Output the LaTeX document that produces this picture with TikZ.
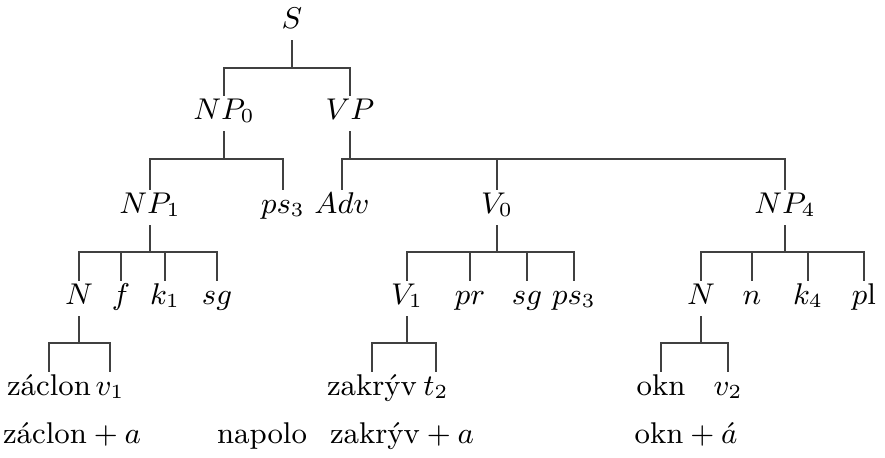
\documentclass[tikz,border=0pt]{standalone}
\usepackage{tikz}
\usetikzlibrary{calc}
\tikzset{
  cat/.style={anchor=base, inner xsep=1pt, inner ysep=0.6pt, text height=6.2pt, text depth=2.8pt, font=\small},
  branch/.style={draw=black!75, line width=0.4pt}
}
\begin{document}
\begin{tikzpicture}[x=0.3pt, y=-0.3pt,
  form/.style={anchor=base, inner sep=1pt, font=\small}
]
\useasboundingbox (0,0) rectangle (885,457);
% heights of the bars
\coordinate (bar0) at (0,68);
\coordinate (bar1) at (0,159);
\coordinate (bar2) at (0,252);
\coordinate (bar3) at (0,343);
% sentence
\node[cat] (s) at (292,28) {$S$};
\node[cat] (np0) at (224,119) {$NP_0$};
\node[cat] (vp) at (350,119) {$VP$};
% subject
\node[cat] (np1) at (150,213) {$NP_1$};
\node[cat] (ps3a) at (283,213) {$ps_3$};
\node[cat] (noun1) at (79,304) {$N$};
\node[cat] (f) at (121,304) {$f$};
\node[cat] (k1) at (165,304) {$k_1$};
\node[cat] (sg1) at (217,304) {$sg$};
\node[cat] (zaclon) at (49,395) {záclon};
\node[cat] (vsub1) at (110,395) {$v_1$};
% predicate
\node[cat] (adv) at (342,213) {$Adv$};
\node[cat] (v0) at (497,213) {$V_0$};
\node[cat] (verb1) at (407,304) {$V_1$};
\node[cat] (pr) at (470,304) {$pr$};
\node[cat] (sg2) at (527,304) {$sg$};
\node[cat] (ps3b) at (574,304) {$ps_3$};
\node[cat] (zakryv) at (372,395) {zakrýv};
\node[cat] (t2) at (436,395) {$t_2$};
% object
\node[cat] (np4) at (785,213) {$NP_4$};
\node[cat] (noun2) at (701,304) {$N$};
\node[cat] (n) at (752,304) {$n$};
\node[cat] (k4) at (808,304) {$k_4$};
\node[cat] (pl) at (864,304) {$p\mathrm{l}$};
\node[cat] (okn) at (661,395) {okn};
\node[cat] (vsub2) at (728,395) {$v_2$};
% surface forms
\node[form] (surf1) at (72,443) {záclon${}+a$};
\node[form] (surf2) at (262,443) {napolo};
\node[form] (surf3) at (402,443) {zakrýv${}+a$};
\node[form] (surf4) at (686,443) {okn${}+\acute{a}$};
% branches
\draw[branch] (s.south) -- (s.south |- bar0);
\draw[branch] (np0.north) |- (vp.north |- bar0) -- (vp.north);
\draw[branch] (np0.south) -- (np0.south |- bar1);
\draw[branch] (np1.north) |- (ps3a.north |- bar1) -- (ps3a.north);
\draw[branch] (vp.south) -- (vp.south |- bar1);
\draw[branch] (adv.north) |- (np4.north |- bar1) -- (np4.north);
\draw[branch] (v0.north) -- (v0.north |- bar1);
\draw[branch] (np1.south) -- (np1.south |- bar2);
\draw[branch] (noun1.north) |- (sg1.north |- bar2) -- (sg1.north);
\draw[branch] (v0.south) -- (v0.south |- bar2);
\draw[branch] (verb1.north) |- (ps3b.north |- bar2) -- (ps3b.north);
\draw[branch] (np4.south) -- (np4.south |- bar2);
\draw[branch] (noun2.north) |- (pl.north |- bar2) -- (pl.north);
\foreach \c in {f,k1,pr,sg2,n,k4}
  \draw[branch] (\c.north) -- (\c.north |- bar2);
\draw[branch] (noun1.south) -- (noun1.south |- bar3);
\draw[branch] (zaclon.north) |- (vsub1.north |- bar3) -- (vsub1.north);
\draw[branch] (verb1.south) -- (verb1.south |- bar3);
\draw[branch] (zakryv.north) |- (t2.north |- bar3) -- (t2.north);
\draw[branch] (noun2.south) -- (noun2.south |- bar3);
\draw[branch] (okn.north) |- (vsub2.north |- bar3) -- (vsub2.north);
\end{tikzpicture}
\end{document}
